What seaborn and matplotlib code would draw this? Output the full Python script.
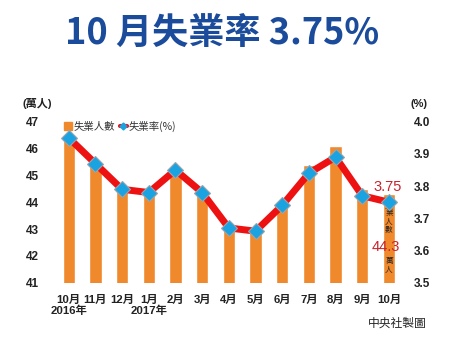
import numpy as np
import pandas as pd
import matplotlib
matplotlib.use("Agg")
import matplotlib.pyplot as plt
import seaborn as sns
from matplotlib.lines import Line2D

sns.set_theme(style="white")
plt.rcParams['font.family'] = ['Liberation Sans', 'Noto Sans CJK TC', 'DejaVu Sans']

months = ["10月\n2016年", "11月", "12月", "1月\n2017年", "2月", "3月", "4月",
          "5月", "6月", "7月", "8月", "9月", "10月"]
unemployed = [46.4, 45.4, 44.5, 44.4, 45.1, 44.3, 43.1, 43.0, 43.9, 45.4, 46.1, 44.5, 44.3]
rate = [3.95, 3.87, 3.79, 3.78, 3.85, 3.78, 3.67, 3.66, 3.74, 3.84, 3.89, 3.77, 3.75]
left_ticks = [41, 42, 43, 44, 45, 46, 47]
right_ticks = [3.5, 3.6, 3.7, 3.8, 3.9, 4.0]

BAR = "#F0892C"
LINE = "#EE1111"
MARK = "#1AA3E0"
NAVY = "#1B4B9B"
DARKRED = "#C8232C"
TXT = "#222222"

df = pd.DataFrame({"month": months, "unemployed": unemployed, "rate": rate,
                   "pos": np.arange(len(months))})

fig = plt.figure(figsize=(4.5, 3.38), dpi=100)
ax = fig.add_axes([0.123, 0.1636, 0.771, 0.4764])

sns.barplot(data=df, x="month", y="unemployed", color=BAR, saturation=1,
            width=0.46, ax=ax, order=months)
ax.set_ylim(41, 47)
ax.set_xlim(-0.5, len(months) - 0.5)
ax.set_yticks(left_ticks)
ax.set_yticklabels([str(t) for t in left_ticks], fontsize=8.5, fontweight='bold', color=TXT)
ax.set_xticks(range(len(months)))
ax.set_xticklabels(months, fontsize=8.2, fontweight='bold', color=TXT,
                   multialignment='center', linespacing=1.0)
for lbl in ax.get_xticklabels():
    lbl.set_verticalalignment('top')
ax.tick_params(axis='y', length=0, pad=12)
ax.tick_params(axis='x', length=0, pad=9)
ax.set_xlabel("")
ax.set_ylabel("")
for s in ax.spines.values():
    s.set_visible(False)

ax2 = ax.twinx()
sns.lineplot(data=df, x="pos", y="rate", ax=ax2, color=LINE, linewidth=5,
             marker="D", markersize=8, markerfacecolor=MARK,
             markeredgecolor="#9aa5ad", markeredgewidth=0.8)
ax2.set_ylim(3.5, 4.0)
ax2.set_yticks(right_ticks)
ax2.set_yticklabels([f"{t:.1f}" for t in right_ticks], fontsize=8.5, fontweight='bold', color=TXT)
ax2.tick_params(axis='y', length=0, pad=8)
ax2.set_xlabel("")
ax2.set_ylabel("")
for s in ax2.spines.values():
    s.set_visible(False)
ax2.set_xlim(-0.5, len(months) - 0.5)

# annotations on last point
n = len(months) - 1
ax2.annotate(f"{rate[-1]:.2f}", (n, rate[-1]), xytext=(-1, 6), textcoords="offset points",
             ha="center", va="bottom", color=DARKRED, fontsize=10.5)
ax.annotate(f"{unemployed[-1]:.1f}", (n, unemployed[-1]), xytext=(-2, -38), textcoords="offset points",
            ha="center", va="center", color=DARKRED, fontsize=10.5)
ax.annotate("失\n業\n人\n數", (n, unemployed[-1]), xytext=(0, -5), textcoords="offset points",
            ha="center", va="top", color=TXT, fontsize=5.5, linespacing=1.0,
            family=['Noto Sans CJK TC'])
ax.annotate("萬\n人", (n, unemployed[-1]), xytext=(0, -45), textcoords="offset points",
            ha="center", va="top", color=TXT, fontsize=5.5, linespacing=1.0,
            family=['Noto Sans CJK TC'])

# legend
handles = [Line2D([0], [0], marker='s', color='none', markerfacecolor=BAR,
                  markeredgecolor=BAR, markersize=5.5),
           Line2D([0], [0], color=LINE, linewidth=3, marker='D', markersize=3.5,
                  markerfacecolor=MARK, markeredgecolor=MARK)]
leg = ax.legend(handles, ["失業人數", "失業率(%)"], loc="upper left",
                bbox_to_anchor=(0.0, 1.065), ncol=2, frameon=False,
                handlelength=0.7, handletextpad=0.1, columnspacing=0.5,
                prop={'family': ['Noto Sans CJK TC'], 'size': 7.5})
for t in leg.get_texts():
    t.set_color("#333333")

# titles and unit labels
fig.text(0.493, 0.902, "10 月失業率 3.75%", ha="center", va="center", color=NAVY,
         fontsize=26, fontweight="bold", family=['Noto Sans CJK TC'])
fig.text(0.083, 0.694, "(萬人)", ha="center", va="center", fontsize=8, fontweight="bold",
         color=TXT)
fig.text(0.931, 0.692, "(%)", ha="center", va="center", fontsize=8, fontweight="bold",
         color=TXT)
fig.text(0.948, 0.045, "中央社製圖", ha="right", va="center", fontsize=8.5,
         color=TXT, family=['Noto Sans CJK TC'])

fig.savefig("out.png", dpi=100)
